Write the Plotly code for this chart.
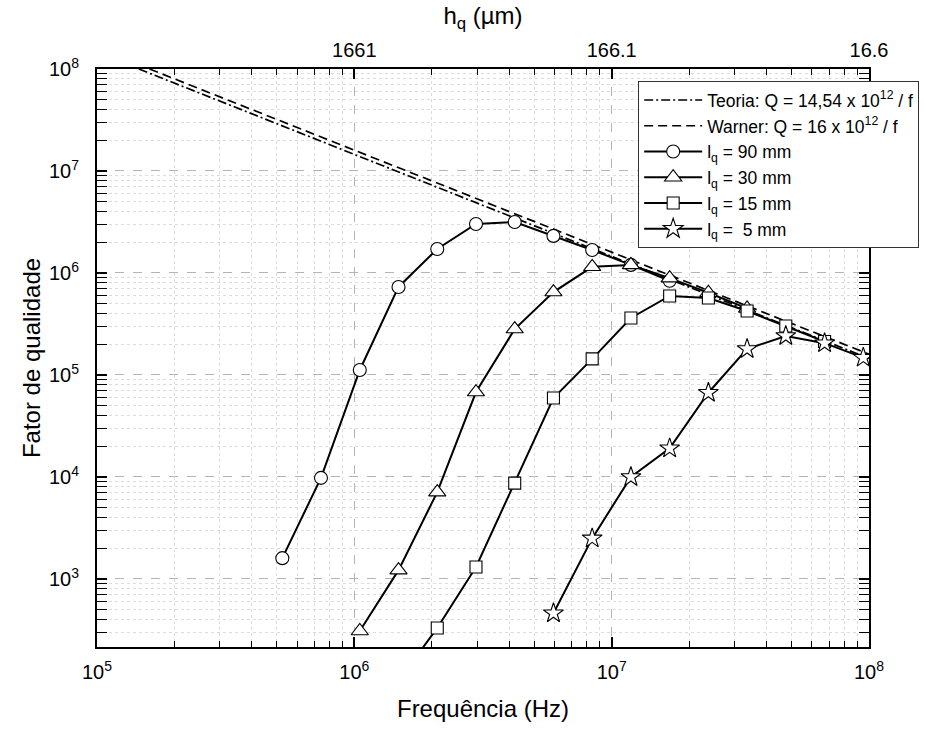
import plotly.graph_objects as go

# ---------------- data ----------------
f_90 = [5.25e5, 7.42e5, 1.05e6, 1.485e6, 2.1e6, 2.97e6, 4.2e6, 5.94e6, 8.4e6, 1.188e7, 1.68e7]
q_90 = [1.6e3, 9.8e3, 1.12e5, 7.3e5, 1.72e6, 3.02e6, 3.16e6, 2.31e6, 1.68e6, 1.2e6, 8.4e5]

f_30 = [1.05e6, 1.485e6, 2.1e6, 2.97e6, 4.2e6, 5.94e6, 8.4e6, 1.188e7, 1.68e7, 2.376e7, 3.36e7]
q_30 = [309, 1.22e3, 7.1e3, 6.8e4, 2.82e5, 6.5e5, 1.15e6, 1.2e6, 8.9e5, 6.4e5, 4.5e5]

f_15 = [1.485e6, 2.1e6, 2.97e6, 4.2e6, 5.94e6, 8.4e6, 1.188e7, 1.68e7, 2.376e7, 3.36e7, 4.75e7, 6.72e7]
q_15 = [100, 331, 1.31e3, 8.7e3, 5.95e4, 1.44e5, 3.62e5, 5.95e5, 5.69e5, 4.24e5, 3.02e5, 2.13e5]

f_5 = [5.94e6, 8.4e6, 1.188e7, 1.68e7, 2.376e7, 3.36e7, 4.75e7, 6.72e7, 9.5e7]
q_5 = [461, 2.5e3, 1.0e4, 1.91e4, 6.7e4, 1.8e5, 2.41e5, 2.05e5, 1.48e5]

teoria_f = [1.454e5, 1.0e8]
teoria_q = [1.0e8, 1.454e5]
warner_f = [1.6e5, 1.0e8]
warner_q = [1.0e8, 1.6e5]

x_major = [1e5, 1e6, 1e7, 1e8]
x_major_text = ["10<sup>5</sup>", "10<sup>6</sup>", "10<sup>7</sup>", "10<sup>8</sup>"]
y_major = [1e3, 1e4, 1e5, 1e6, 1e7, 1e8]
y_major_text = ["10<sup>3</sup>", "10<sup>4</sup>", "10<sup>5</sup>", "10<sup>6</sup>",
                "10<sup>7</sup>", "10<sup>8</sup>"]
top_major = [1e6, 1e7, 1e8]
top_major_text = ["1661", "166.1", "16.6"]

FONT = "Liberation Sans, Arial, sans-serif"

x_minor = [d * 10 ** e for e in range(5, 8) for d in range(2, 10)]
y_minor = [d * 10 ** e for e in range(2, 8) for d in range(2, 10)]

fig = go.Figure()

fig.add_trace(go.Scatter(
    x=teoria_f, y=teoria_q, mode="lines",
    line=dict(color="black", width=1.7, dash="9px,3px,2px,3px"),
    name="Teoria: Q = 14,54 x 10<sup>12</sup> / f"))
fig.add_trace(go.Scatter(
    x=warner_f, y=warner_q, mode="lines",
    line=dict(color="black", width=1.7, dash="9px,5px"),
    name="Warner: Q = 16 x 10<sup>12</sup> / f"))

series = [
    (f_90, q_90, "circle", 13, "l<sub>q</sub> = 90 mm"),
    (f_30, q_30, "triangle-up", 15, "l<sub>q</sub> = 30 mm"),
    (f_15, q_15, "square", 12, "l<sub>q</sub> = 15 mm"),
    (f_5, q_5, "star", 15, "l<sub>q</sub> =  5 mm"),
]
for fx, qy, sym, sz, nm in series:
    fig.add_trace(go.Scatter(
        x=fx, y=qy, mode="lines+markers", name=nm,
        line=dict(color="black", width=2),
        marker=dict(symbol=sym, size=sz, color="white",
                    line=dict(color="black", width=1.1)),
    ))

# invisible trace for top axis
fig.add_trace(go.Scatter(x=[1e5, 1e8], y=[1e3, 1e3], xaxis="x2", mode="markers",
                         marker=dict(opacity=0), showlegend=False, hoverinfo="skip"))

fig.update_layout(
    width=926, height=733,
    margin=dict(l=97, r=57, t=69, b=86, autoexpand=False),
    paper_bgcolor="white", plot_bgcolor="white",
    font=dict(family=FONT, color="black"),
    showlegend=True,
    legend=dict(
        x=0.701, y=0.979, xanchor="left", yanchor="top",
        bgcolor="white", bordercolor="#333", borderwidth=1,
        font=dict(family=FONT, size=17.5, color="black"),
        itemwidth=58, tracegroupgap=0,
    ),
    xaxis=dict(
        type="log", range=[5, 8], automargin=False,
        tickmode="array", tickvals=x_major, ticktext=x_major_text,
        ticks="inside", ticklen=10, tickwidth=1.5, tickcolor="black",
        tickfont=dict(size=20), ticklabelstandoff=6,
        showline=True, linecolor="black", linewidth=2, mirror=True,
        showgrid=True, gridcolor="#b4b4b4", griddash="dash", gridwidth=1,
        zeroline=False,
        title=dict(text="Frequência (Hz)", font=dict(size=24), standoff=18),
        minor=dict(tickmode="array", tickvals=x_minor, ticks="inside", ticklen=6,
                   tickwidth=1.2, tickcolor="black", showgrid=True,
                   gridcolor="#dcdcdc", griddash="dot", gridwidth=1),
    ),
    xaxis2=dict(
        type="log", range=[5, 8], overlaying="x", side="top", automargin=False,
        tickmode="array", tickvals=top_major, ticktext=top_major_text,
        ticks="inside", ticklen=10, tickwidth=1.5, tickcolor="black",
        tickfont=dict(size=20), ticklabelstandoff=2,
        showline=True, linecolor="black", linewidth=2,
        showgrid=False, zeroline=False,
        title=dict(text="h<sub>q</sub> (µm)", font=dict(size=24), standoff=8),
        minor=dict(tickmode="array", tickvals=x_minor, ticks="inside", ticklen=6,
                   tickwidth=1.2, tickcolor="black", showgrid=False),
    ),
    yaxis=dict(
        type="log", range=[2.333, 8], automargin=False,
        tickmode="array", tickvals=y_major, ticktext=y_major_text,
        ticks="inside", ticklen=10, tickwidth=1.5, tickcolor="black",
        tickfont=dict(size=20), ticklabelstandoff=12,
        showline=True, linecolor="black", linewidth=2, mirror="allticks",
        showgrid=True, gridcolor="#b4b4b4", griddash="dash", gridwidth=1,
        zeroline=False,
        title=dict(text="Fator de qualidade", font=dict(size=24), standoff=2),
        minor=dict(tickmode="array", tickvals=y_minor, ticks="inside", ticklen=6,
                   tickwidth=1.2, tickcolor="black", showgrid=True,
                   gridcolor="#dcdcdc", griddash="dot", gridwidth=1),
    ),
)

fig.write_html("out.html")
